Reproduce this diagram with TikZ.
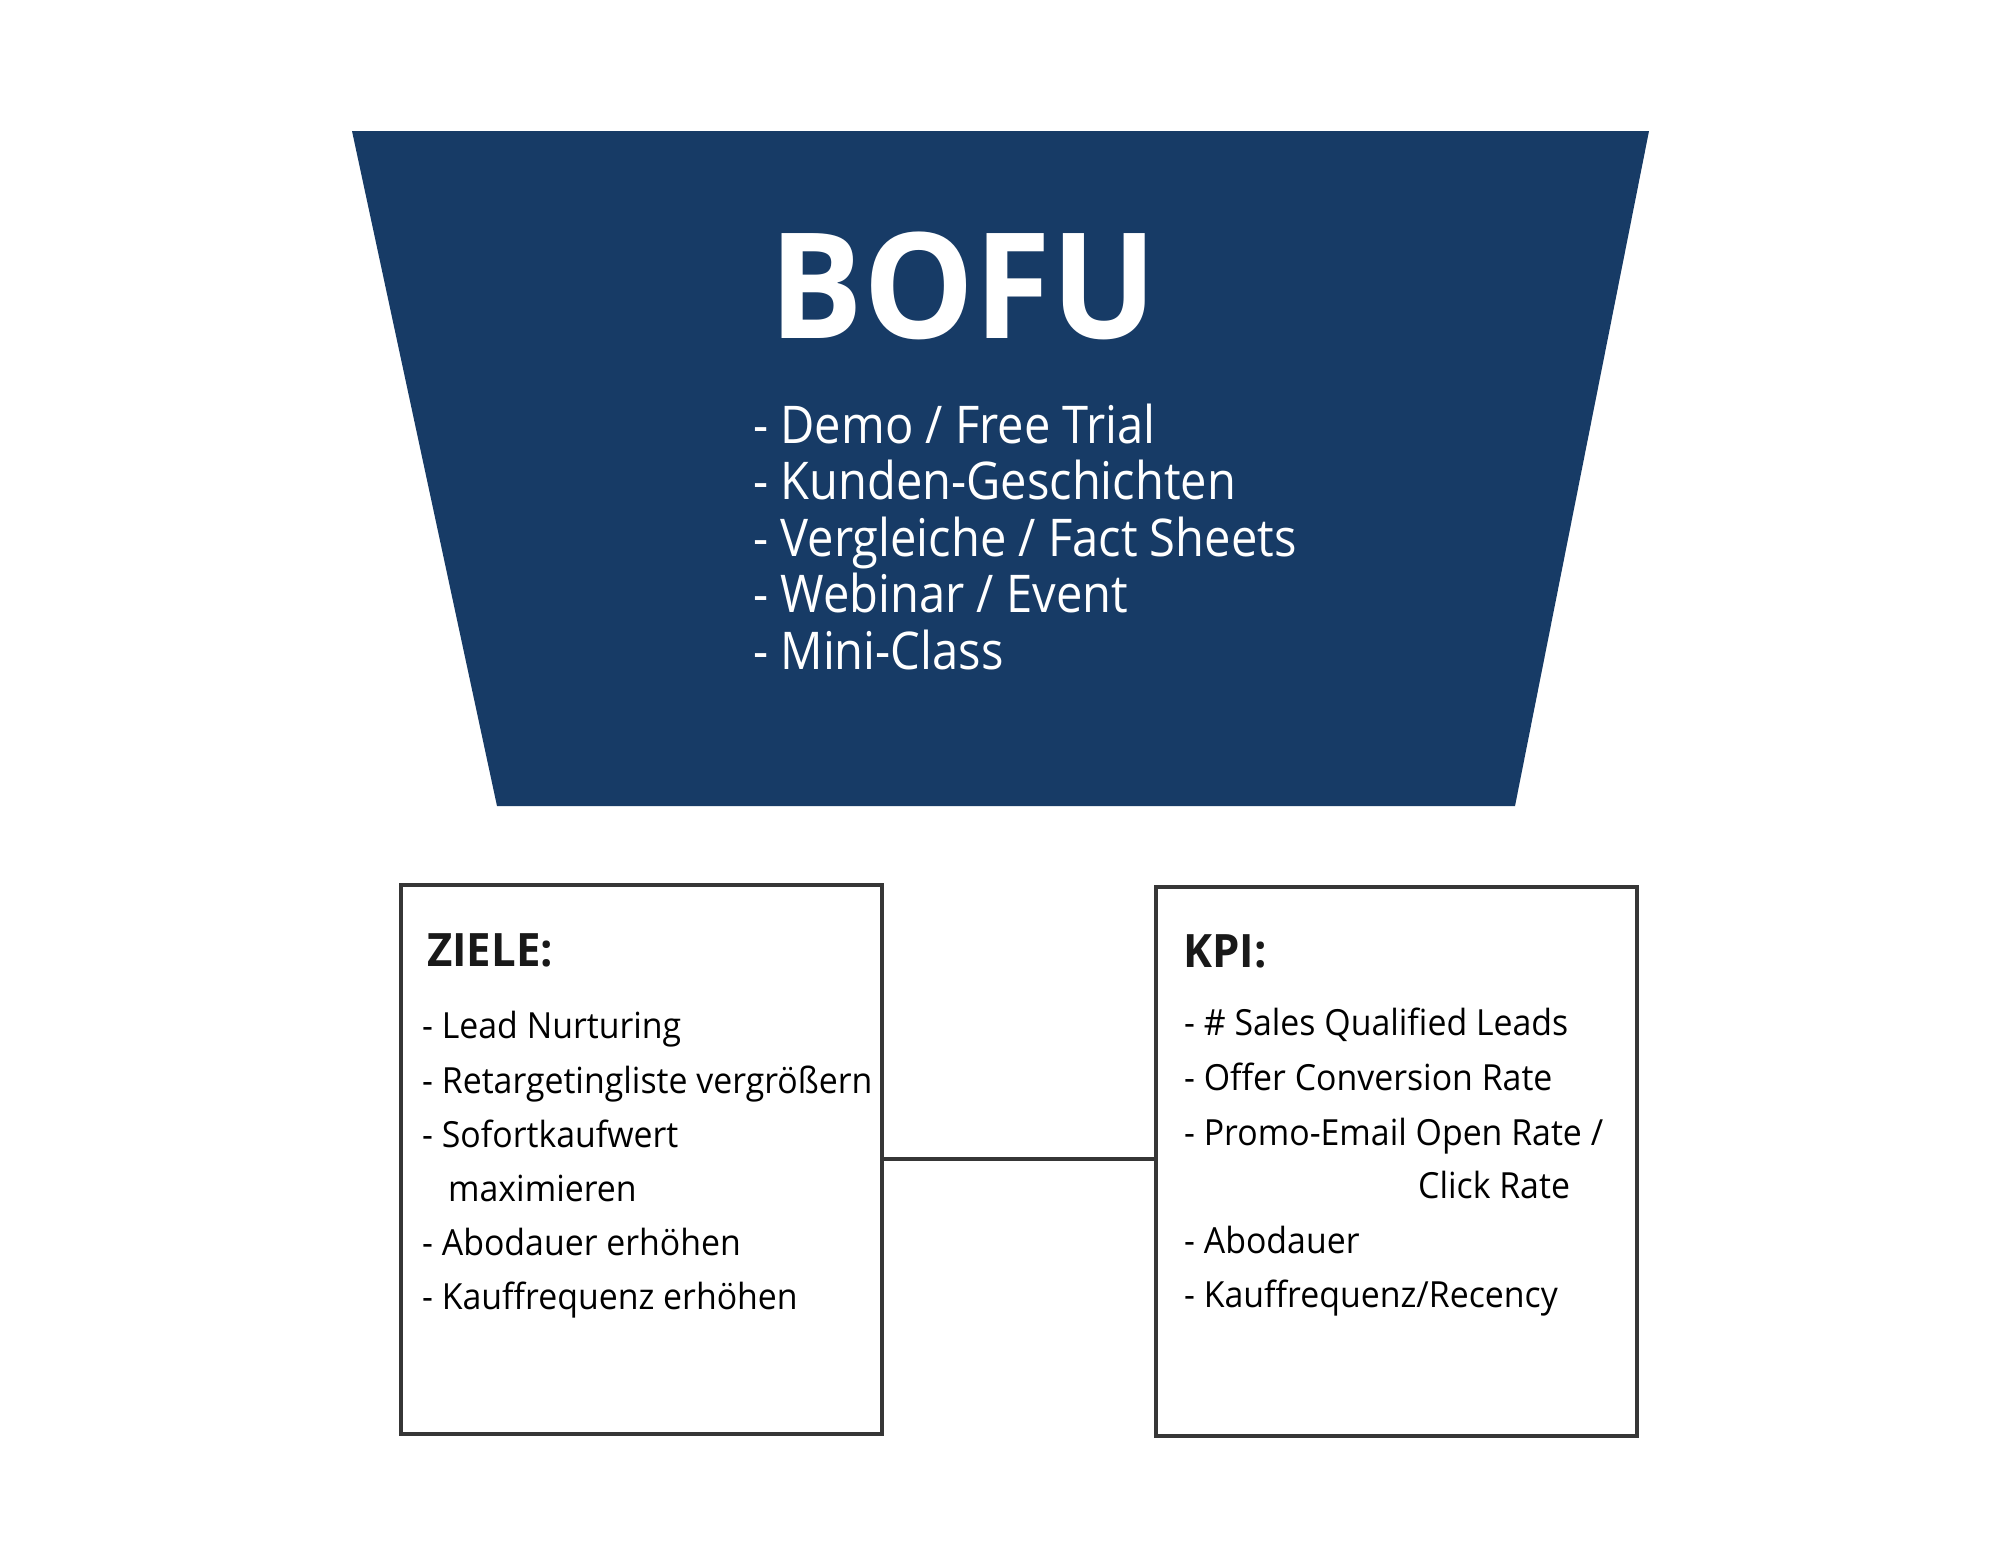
\documentclass[tikz,border=0pt]{standalone}
\usepackage{fontspec}
\setmainfont{Open Sans}
\newfontfamily\ostop[FakeStretch=0.905]{Open Sans}
\newfontfamily\osn[FakeStretch=0.94]{Open Sans}
\newfontfamily\osh[FakeStretch=0.95]{Open Sans}
\newfontfamily\osw[FakeStretch=0.95]{Open Sans}
\definecolor{navy}{HTML}{173B66}
\definecolor{boxgray}{HTML}{363636}
\tikzset{
  funnel/.style={fill=navy},
  infobox/.style={draw=boxgray, line width=4pt, inner sep=0pt},
  link/.style={draw=boxgray, line width=3.5pt},
  toptext/.style={anchor=base west, inner sep=0pt, text=white, font=\ostop\fontsize{52}{60}\selectfont},
  headtext/.style={anchor=base west, inner sep=0pt, text=black!90, font=\osh\bfseries\fontsize{46}{54}\selectfont},
  itemtext/.style={anchor=base west, inner sep=0pt, text=black, font=\osn\fontsize{36}{44}\selectfont}
}
\begin{document}
\begin{tikzpicture}[x=1pt,y=-1pt]
\useasboundingbox (0,0) rectangle (2000,1545);
\fill[white] (0,0) rectangle (2000,1545);
\fill[funnel] (352,131) -- (1649,131) -- (1515,806) -- (497,806) -- cycle;
\node[anchor=base, inner sep=0pt, text=white, font=\osw\bfseries\fontsize{147}{150}\selectfont] (bofu) at (963,338) {BOFU};
\node[toptext] (t1) at (753,443) {- Demo / Free Trial};
\node[toptext] (t2) at (753,499) {- Kunden-Geschichten};
\node[toptext] (t3) at (753,556) {- Vergleiche / Fact Sheets};
\node[toptext] (t4) at (753,612) {- Webinar / Event};
\node[toptext] (t5) at (753,669) {- Mini-Class};

\node[infobox, minimum width=481pt, minimum height=549pt] (ziele) at (641.5,1159.5) {};
\node[infobox, minimum width=481pt, minimum height=549pt] (kpi) at (1396.5,1161.5) {};
\draw[link] (ziele.east |- 0,1159) -- (kpi.west |- 0,1159);

\node[headtext] (zh) at (427,966) {ZIELE:};
\node[itemtext] (z1) at (422,1038) {- Lead Nurturing};
\node[itemtext] (z2) at (422,1093) {- Retargetingliste vergrößern};
\node[itemtext] (z3) at (422,1147) {- Sofortkaufwert};
\node[itemtext] (z4) at (448,1201) {maximieren};
\node[itemtext] (z5) at (422,1255) {- Abodauer erhöhen};
\node[itemtext] (z6) at (422,1309) {- Kauffrequenz erhöhen};

\node[headtext] (kh) at (1183,967) {KPI:};
\node[itemtext] (k1) at (1184,1035) {- \# Sales Qualified Leads};
\node[itemtext] (k2) at (1184,1090) {- Offer Conversion Rate};
\node[itemtext] (k3) at (1184,1145) {- Promo-Email Open Rate /};
\node[itemtext] (k4) at (1418,1198) {Click Rate};
\node[itemtext] (k5) at (1184,1253) {- Abodauer};
\node[itemtext] (k6) at (1184,1307) {- Kauffrequenz/Recency};
\end{tikzpicture}
\end{document}
